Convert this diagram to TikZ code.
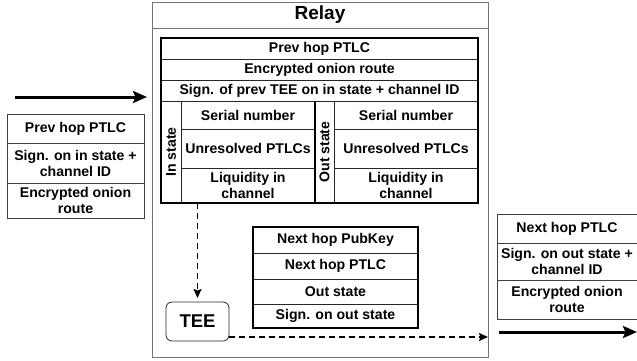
\documentclass[tikz,border=0pt]{standalone}
\usepackage{fontspec}
\setmainfont{Liberation Sans}
\usetikzlibrary{arrows.meta}
\begin{document}
\begin{tikzpicture}[x=1pt,y=-1pt,
  txt/.style={font=\fontsize{14.1}{16}\selectfont\bfseries},
  cell/.style={txt, draw=black!85, line width=0.7pt, anchor=north west,
    inner sep=0pt, outer sep=0pt, align=center},
  cellwh/.style 2 args={cell, minimum width=#1pt, minimum height=#2pt},
  sidecell/.style 2 args={cellwh={#1}{#2}, draw=black!75},
  thickframe/.style={draw=black, line width=2.8pt, anchor=north west,
    inner sep=0pt, outer sep=0pt},
  relayframe/.style={draw=black!55, line width=1pt, anchor=north west,
    inner sep=0pt, outer sep=0pt},
  teebox/.style={draw=black!85, line width=0.8pt, rounded corners=6pt,
    anchor=north west, inner sep=0pt, outer sep=0pt,
    font=\fontsize{18.5}{20}\selectfont\bfseries},
  bigarrow/.style={line width=3pt, -{Stealth[length=14pt,width=12pt,inset=2.5pt]}},
  dasharrow/.style={line width=1.6pt, dash pattern=on 6pt off 4pt,
    -{Stealth[length=9pt,width=8pt,inset=1.5pt]}},
]
\useasboundingbox (0,0) rectangle (637,360);

% Relay frame and title
\node[relayframe, minimum width=336pt, minimum height=355pt] (relay) at (152,2) {};
\node[relayframe, minimum width=336pt, minimum height=26pt,
      font=\fontsize{19}{21}\selectfont\bfseries] (relaytitle) at (152,2) {Relay};

% Incoming message fields and state tables
\node[cellwh={317}{21}] (prevptlc) at (161,38) {Prev hop PTLC};
\node[cellwh={317}{21}] (onion) at (161,59) {Encrypted onion route};
\node[cellwh={317}{21}] (prevsign) at (161,80) {Sign. of prev TEE on in state + channel ID};

\node[cellwh={20}{102}] (inlabel) at (161,101) {\rotatebox{90}{In state}};
\node[cellwh={134}{28}] (inserial) at (181,101) {Serial number};
\node[cellwh={134}{39}] (inptlc) at (181,129) {Unresolved PTLCs};
\node[cellwh={134}{35}] (inliq) at (181,168) {Liquidity in\\channel};

\node[cellwh={19}{102}] (outlabel) at (315,101) {\rotatebox{90}{Out state}};
\node[cellwh={144}{28}] (outserial) at (334,101) {Serial number};
\node[cellwh={144}{39}] (outptlc) at (334,129) {Unresolved PTLCs};
\node[cellwh={144}{35}] (outliq) at (334,168) {Liquidity in\\channel};

\node[thickframe, minimum width=317pt, minimum height=165pt] (stateblock) at (161,38) {};
\draw[line width=2.8pt] (outlabel.north west) -- (outlabel.south west);

% Outgoing message prepared inside the relay
\node[cellwh={165}{26}] (nextkey) at (253,227) {Next hop PubKey};
\node[cellwh={165}{26}] (nextptlc) at (253,253) {Next hop PTLC};
\node[cellwh={165}{25}] (outst) at (253,279) {Out state};
\node[cellwh={165}{24}] (outsign) at (253,304) {Sign. on out state};
\node[thickframe, minimum width=165pt, minimum height=101pt] (nextblock) at (253,227) {};

% Enclave
\node[teebox, minimum width=63pt, minimum height=39pt] (tee) at (166,302) {TEE};

% Message received from the previous hop
\node[sidecell={137}{29}] (lptlc) at (7,114) {Prev hop PTLC};
\node[sidecell={137}{40}] (lsign) at (7,143) {Sign. on in state +\\channel ID};
\node[sidecell={137}{35}] (lonion) at (7,183) {Encrypted onion\\route};

% Message sent to the next hop
\node[sidecell={140}{29}] (rptlc) at (497,214) {Next hop PTLC};
\node[sidecell={140}{37}] (rsign) at (497,243) {Sign. on out state +\\channel ID};
\node[sidecell={140}{39}] (ronion) at (497,280) {Encrypted onion\\route};

% Flow arrows
\coordinate (inL) at (15,97);
\coordinate (inR) at (147,97);
\draw[bigarrow] (inL) -- (inR);
\coordinate (outL) at (499,332);
\coordinate (outR) at (637,332);
\draw[bigarrow] (outL) -- (outR);

\draw[dasharrow, shorten >=4pt] (stateblock.south -| tee.north) -- (tee.north);
\coordinate (teeout) at (229,337);
\draw[dasharrow] (teeout) -- (teeout -| relay.east);
\end{tikzpicture}
\end{document}
